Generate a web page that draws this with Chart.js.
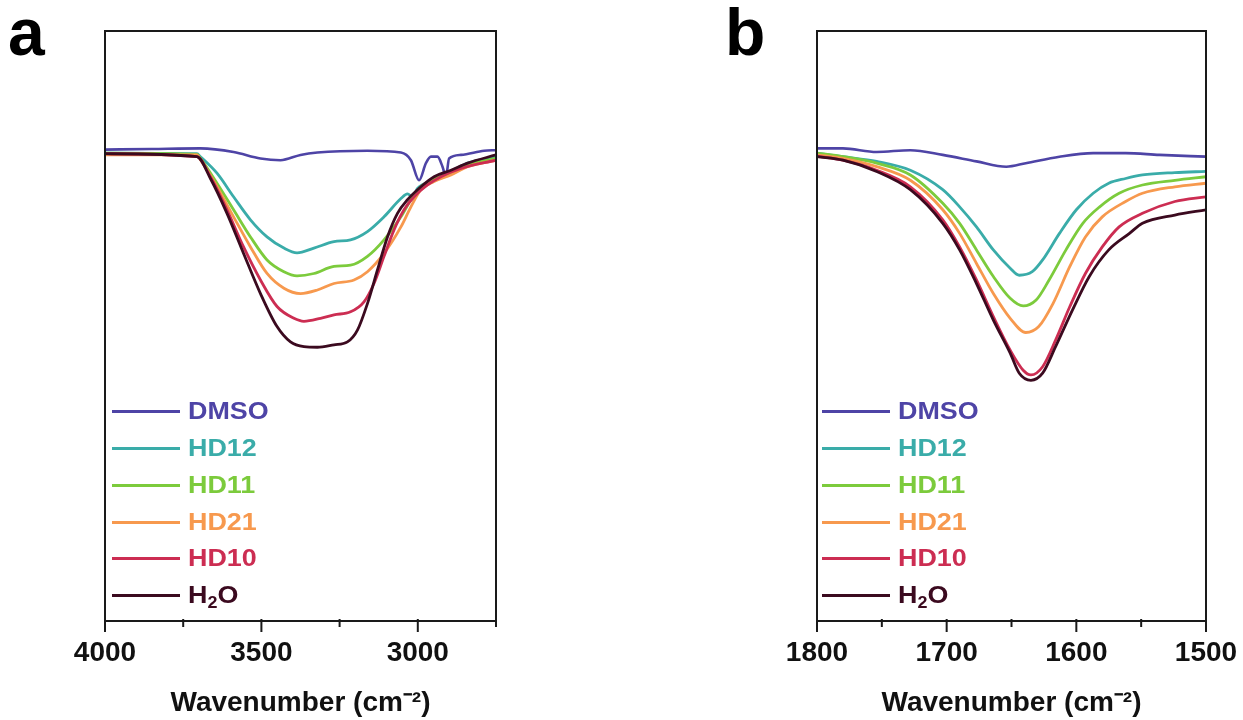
<!DOCTYPE html>
<html><head><meta charset="utf-8">
<script src="https://cdn.jsdelivr.net/npm/chart.js@4.4.0/dist/chart.umd.min.js"></script>
<style>
html,body{margin:0;padding:0;background:#fff;width:1243px;height:720px;overflow:hidden;font-family:"Liberation Sans",Arial,sans-serif;}
#wrap{position:relative;width:1243px;height:720px;overflow:hidden;}
canvas{position:absolute;top:0;}
.panel-letter{position:absolute;top:-1px;font-weight:bold;font-size:66px;line-height:1;color:#000;}
.leg-row{position:absolute;height:0;white-space:nowrap;}
.leg-line{position:absolute;left:0;width:68px;height:3px;top:-1.5px;}
.leg-text{position:absolute;left:76px;top:-15px;font-weight:bold;font-size:24px;line-height:30px;transform:scaleX(1.12);transform-origin:left center;}
.leg-text sub{font-size:16px;line-height:0;vertical-align:-5px;}
</style></head>
<body>
<div id="wrap">
  <canvas id="ca" width="620" height="720" style="left:0"></canvas>
  <canvas id="cb" width="680" height="720" style="left:620px"></canvas>
  <div class="panel-letter" style="left:8px">a</div>
  <div class="panel-letter" style="left:725px">b</div>
  <div id="lega"></div>
  <div id="legb"></div>
</div>
<script>
// ---- series names and tick labels ----
const seriesNames = ['DMSO', 'HD12', 'HD11', 'HD21', 'HD10', 'H2O'];
const aTickLabels = [4000, 3500, 3000];
const bTickLabels = [1800, 1700, 1600, 1500];
const axisTitle = 'Wavenumber (cm\u207B\u00B2)';

// ---- panel a: O-H stretching region (wavenumber, cm-1 / transmittance, a.u.) ----
const aX_DMSO = [4000, 3850, 3695, 3589, 3503, 3439, 3375, 3321, 3161, 3054, 3022, 2996, 2974, 2958, 2937, 2921, 2910, 2900, 2862, 2788, 2750];
const aY_DMSO = [79.9, 80.0, 80.1, 79.5, 78.4, 78.1, 79.0, 79.4, 79.7, 79.4, 78.1, 74.7, 77.6, 78.7, 78.7, 77.0, 75.3, 78.4, 79.0, 79.7, 79.8];
const aX_HD12 = [4000, 3706, 3695, 3642, 3589, 3535, 3482, 3428, 3386, 3332, 3268, 3215, 3161, 3108, 3054, 3033, 3017, 3001, 2948, 2894, 2841, 2750];
const aY_HD12 = [79.3, 79.2, 78.7, 75.9, 71.9, 68.0, 65.1, 63.2, 62.4, 63.2, 64.3, 64.6, 66.0, 68.5, 71.6, 72.4, 71.9, 73.3, 74.7, 76.2, 77.6, 78.7];
const aX_HD11 = [4000, 3706, 3695, 3642, 3589, 3535, 3482, 3428, 3386, 3332, 3268, 3215, 3161, 3108, 3054, 3022, 2990, 2948, 2894, 2841, 2750];
const aY_HD11 = [79.3, 79.1, 78.4, 74.2, 69.7, 65.1, 61.2, 59.2, 58.5, 58.9, 60.1, 60.3, 61.8, 64.6, 68.5, 71.4, 73.6, 74.9, 75.9, 77.3, 78.4];
const aX_HD21 = [4000, 3706, 3695, 3642, 3589, 3535, 3482, 3428, 3375, 3321, 3268, 3204, 3161, 3108, 3054, 3022, 2990, 2948, 2894, 2841, 2750];
const aY_HD21 = [79.0, 79.0, 78.2, 73.6, 68.5, 63.4, 58.9, 56.4, 55.5, 56.1, 57.2, 57.8, 59.2, 62.3, 66.8, 70.2, 73.1, 74.5, 75.6, 77.0, 78.1];
const aX_HD10 = [4000, 3706, 3663, 3610, 3557, 3503, 3450, 3396, 3364, 3311, 3268, 3215, 3172, 3140, 3108, 3076, 3044, 3012, 2969, 2926, 2862, 2750];
const aY_HD10 = [79.2, 78.7, 75.3, 69.7, 63.4, 57.8, 53.3, 51.3, 50.8, 51.3, 51.9, 52.4, 54.1, 57.2, 61.8, 66.3, 69.7, 71.9, 73.9, 75.3, 76.7, 78.1];
const aX_H2O = [4000, 3706, 3663, 3610, 3557, 3503, 3450, 3407, 3364, 3321, 3268, 3225, 3193, 3161, 3129, 3097, 3065, 3033, 2990, 2948, 2894, 2841, 2750];
const aY_H2O = [79.2, 78.7, 75.0, 69.1, 62.3, 55.5, 49.9, 47.3, 46.5, 46.4, 46.8, 47.3, 49.3, 53.8, 59.5, 65.1, 69.1, 71.4, 73.6, 75.3, 76.4, 77.6, 79.0];

// ---- panel b: H-O-H bending region ----
const bX_DMSO = [1800, 1780, 1754, 1728, 1703, 1677, 1654, 1639, 1613, 1587, 1562, 1536, 1500];
const bY_DMSO = [80.1, 80.1, 79.5, 79.8, 79.0, 77.9, 77.0, 77.6, 78.7, 79.3, 79.3, 79.0, 78.7];
const bX_HD12 = [1800, 1780, 1754, 1728, 1703, 1690, 1677, 1664, 1651, 1644, 1634, 1626, 1613, 1600, 1587, 1575, 1562, 1549, 1524, 1500];
const bY_HD12 = [79.3, 78.7, 77.9, 76.4, 73.1, 70.2, 66.8, 62.9, 59.8, 58.6, 59.2, 61.2, 65.7, 69.7, 72.5, 74.2, 75.0, 75.6, 76.0, 76.2];
const bX_HD11 = [1800, 1780, 1754, 1728, 1703, 1690, 1677, 1664, 1651, 1641, 1631, 1621, 1608, 1595, 1582, 1567, 1549, 1524, 1500];
const bY_HD11 = [79.3, 78.7, 77.6, 75.6, 70.8, 67.4, 62.9, 58.4, 54.7, 53.4, 54.4, 57.8, 62.9, 67.4, 70.2, 72.5, 73.9, 74.7, 75.3];
const bX_HD21 = [1800, 1780, 1754, 1728, 1703, 1690, 1677, 1664, 1651, 1639, 1629, 1618, 1605, 1593, 1580, 1562, 1549, 1524, 1500];
const bY_HD21 = [79.0, 78.4, 77.0, 74.7, 69.7, 65.7, 60.6, 55.5, 51.3, 48.9, 49.9, 53.8, 60.1, 65.1, 68.5, 71.1, 72.5, 73.6, 74.2];
const bX_HD10 = [1800, 1780, 1754, 1728, 1703, 1690, 1677, 1664, 1651, 1641, 1635, 1626, 1616, 1605, 1593, 1580, 1567, 1549, 1524, 1500];
const bY_HD10 = [78.8, 78.1, 76.4, 73.6, 68.0, 63.4, 57.8, 51.6, 45.9, 42.5, 41.7, 43.1, 47.6, 53.3, 58.9, 63.4, 66.8, 69.1, 71.1, 71.9];
const bX_H2O = [1800, 1780, 1754, 1728, 1703, 1690, 1677, 1664, 1651, 1644, 1635, 1626, 1616, 1603, 1590, 1575, 1559, 1549, 1524, 1500];
const bY_H2O = [78.7, 78.1, 76.2, 73.1, 67.4, 62.9, 57.2, 51.0, 45.4, 42.0, 40.8, 42.0, 46.5, 52.7, 58.4, 62.9, 65.7, 67.4, 68.8, 69.7];

// ---- styles ----
const seriesColors = ['#4e44a6', '#3aaca9', '#7ccb3c', '#f7994e', '#cc2d52', '#3b0a1f'];
const FONT = '"Liberation Sans", Arial, sans-serif';

const aSeries = [[aX_DMSO, aY_DMSO], [aX_HD12, aY_HD12], [aX_HD11, aY_HD11], [aX_HD21, aY_HD21], [aX_HD10, aY_HD10], [aX_H2O, aY_H2O]];
const bSeries = [[bX_DMSO, bY_DMSO], [bX_HD12, bY_HD12], [bX_HD11, bY_HD11], [bX_HD21, bY_HD21], [bX_HD10, bY_HD10], [bX_H2O, bY_H2O]];

const framePlugin = {
  id: 'frame',
  afterDraw(chart, args, opts) {
    const {ctx, chartArea: {left, top, right, bottom}} = chart;
    const xs = chart.scales.x;
    ctx.save();
    ctx.strokeStyle = '#1a1a1a';
    ctx.lineWidth = 2;
    ctx.strokeRect(left, top, right - left, bottom - top);
    xs.ticks.forEach(t => {
      const px = xs.getPixelForValue(t.value);
      const major = opts.major.includes(t.value);
      ctx.beginPath();
      ctx.moveTo(px, bottom - 2);
      ctx.lineTo(px, bottom + (major ? 11 : 6));
      ctx.stroke();
    });
    ctx.restore();
  }
};

function makeChart(id, series, xmin, xmax, step, majors, pad) {
  const datasets = series.map((s, i) => ({
    label: seriesNames[i],
    data: s[0].map((x, k) => ({x: x, y: s[1][k]})),
    borderColor: seriesColors[i],
    backgroundColor: seriesColors[i],
    borderWidth: i === 0 ? 2.6 : 2.8,
    pointRadius: 0,
    cubicInterpolationMode: 'monotone',
    fill: false,
    order: 6 - i
  }));
  return new Chart(document.getElementById(id), {
    type: 'line',
    data: {datasets},
    options: {
      responsive: false,
      animation: false,
      devicePixelRatio: 1,
      layout: {padding: pad},
      plugins: {legend: {display: false}, tooltip: {enabled: false}, frame: {major: majors}},
      scales: {
        x: {
          type: 'linear', reverse: true, min: xmin, max: xmax,
          grid: {display: false, drawTicks: false},
          border: {display: false},
          ticks: {
            stepSize: step, autoSkip: false, maxRotation: 0, padding: 15,
            color: '#111', font: {family: FONT, size: 28, weight: 'bold'},
            callback: v => majors.includes(v) ? String(v) : ''
          },
          title: {display: true, text: axisTitle, color: '#111', padding: {top: 0, bottom: 0},
                  font: {family: FONT, size: 28, weight: 'bold'}},
          afterFit: sc => { sc.height = 99; }
        },
        y: {display: false, min: 0, max: 100}
      }
    },
    plugins: [framePlugin]
  });
}

makeChart('ca', aSeries, 2750, 4000, 250, aTickLabels, {left: 105, right: 124, top: 31, bottom: 0});
makeChart('cb', bSeries, 1500, 1800, 50, bTickLabels, {left: 197, right: 94, top: 31, bottom: 0});

// ---- HTML legends ----
function buildLegend(elId, left) {
  const el = document.getElementById(elId);
  const rowsY = [411, 448, 485, 522, 558, 595];
  seriesNames.forEach((n, i) => {
    const row = document.createElement('div');
    row.className = 'leg-row';
    row.style.left = left + 'px';
    row.style.top = rowsY[i] + 'px';
    const ln = document.createElement('div');
    ln.className = 'leg-line';
    ln.style.background = seriesColors[i];
    const tx = document.createElement('div');
    tx.className = 'leg-text';
    tx.style.color = seriesColors[i];
    if (n === 'H2O') { tx.innerHTML = 'H<sub>2</sub>O'; } else { tx.textContent = n; }
    row.appendChild(ln); row.appendChild(tx);
    el.appendChild(row);
  });
}
buildLegend('lega', 112);
buildLegend('legb', 822);
</script>
</body></html>
